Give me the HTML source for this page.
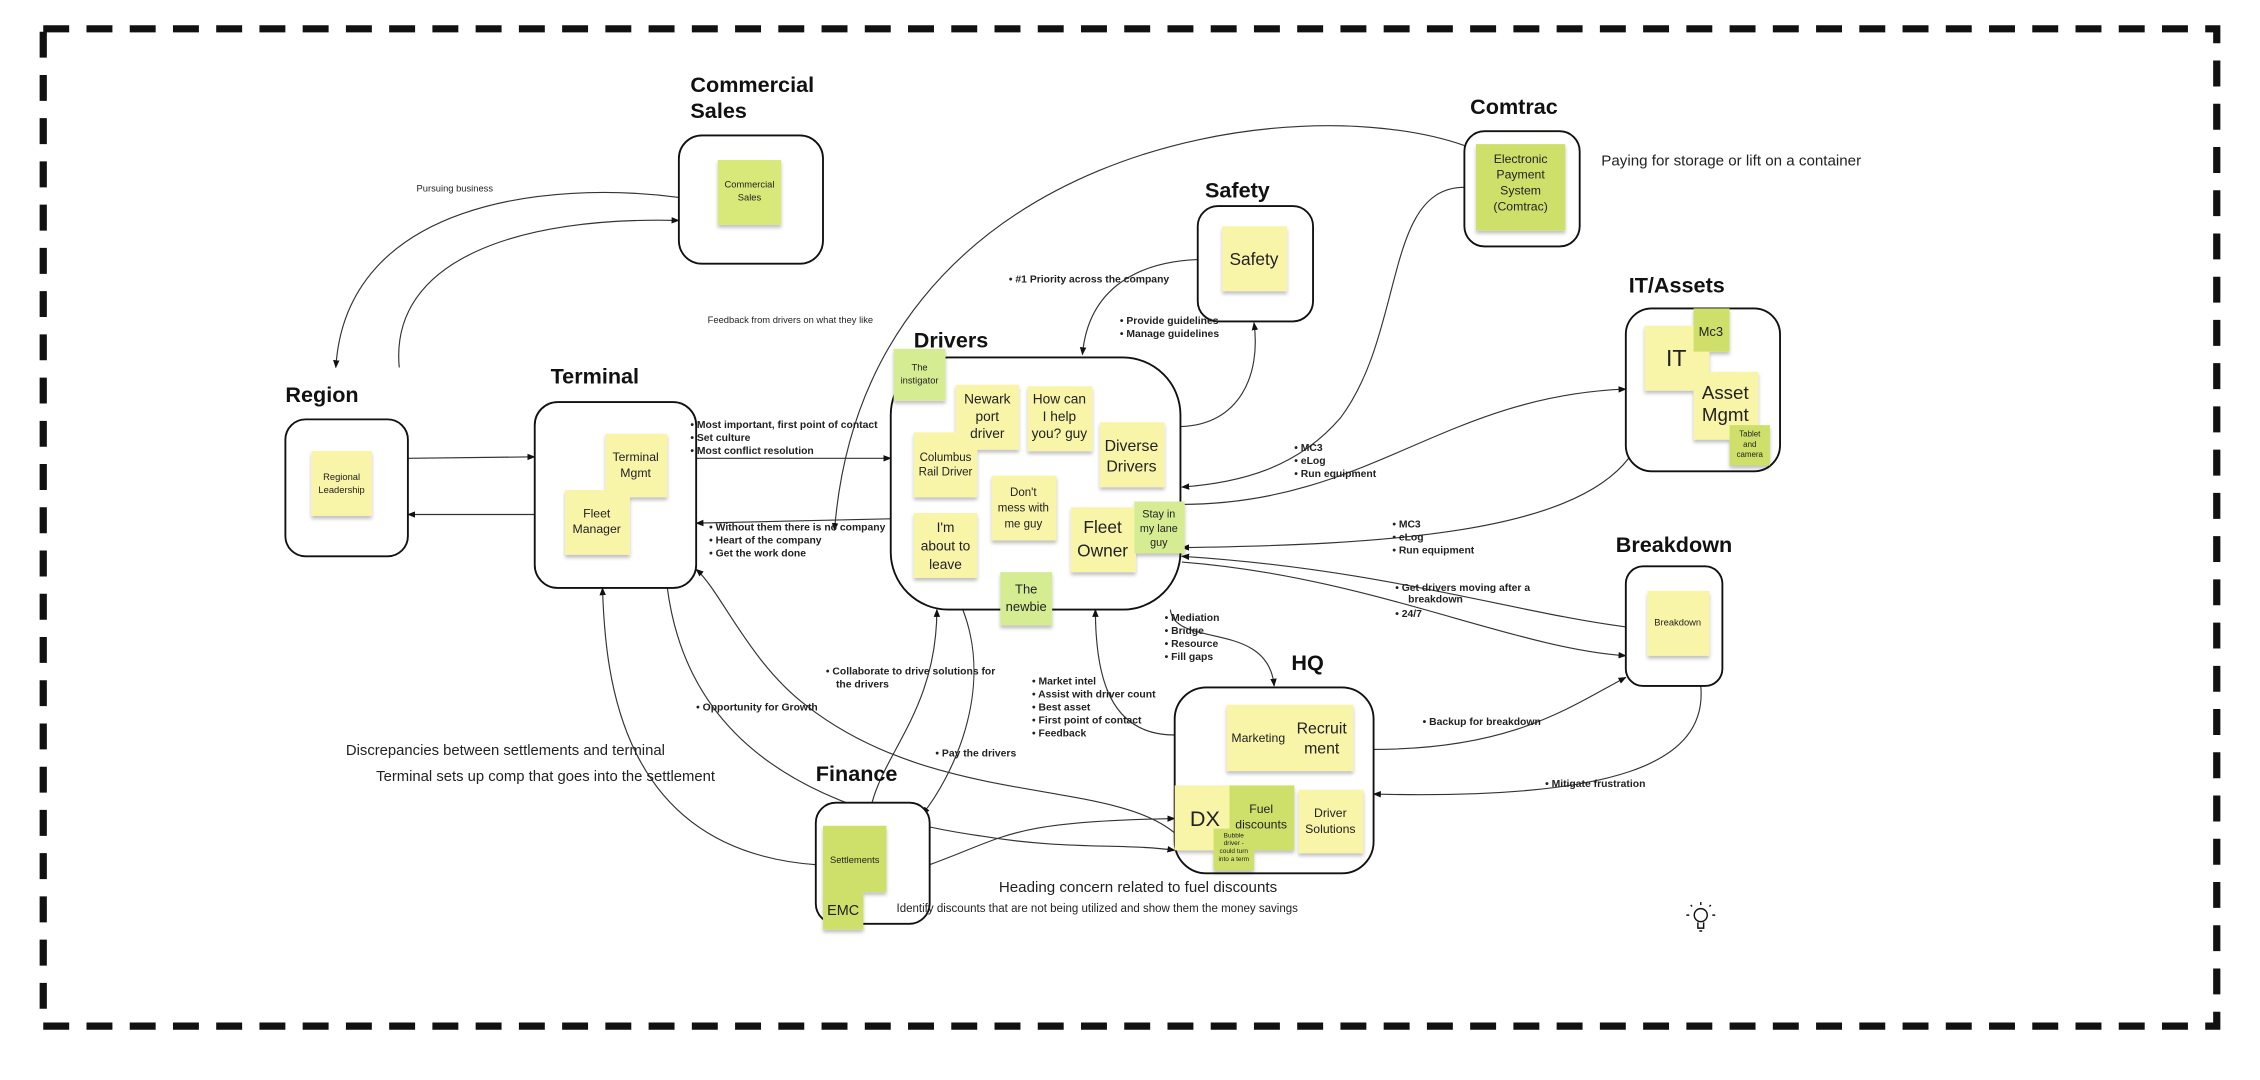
<!DOCTYPE html>
<html><head><meta charset="utf-8"><style>
html,body{margin:0;padding:0;background:#fff;}
svg{display:block;}
text{font-family:"Liberation Sans",sans-serif;fill:#222;}
.t{font-weight:bold;font-size:15px;fill:#111;}
.b{font-weight:bold;font-size:7.2px;fill:#222;}
.s{text-anchor:middle;fill:#333;}
</style></head><body>
<svg width="2260" height="1080" viewBox="0 0 1568 749.4" preserveAspectRatio="none" xmlns="http://www.w3.org/2000/svg">
<defs>
<marker id="a" viewBox="0 0 10 10" refX="9" refY="5" markerWidth="7" markerHeight="7" orient="auto"><path d="M0,1 L10,5 L0,9 z" fill="#111"/></marker>
<filter id="sh" x="-20%" y="-20%" width="140%" height="150%"><feDropShadow dx="0" dy="2" stdDeviation="1.3" flood-color="#000" flood-opacity="0.25"/></filter>
</defs>
<rect x="30" y="20" width="1508" height="692" fill="none" stroke="#111" stroke-width="5" stroke-dasharray="18 12"/>

<g fill="none" stroke="#333" stroke-width="0.8" marker-end="url(#a)">
<path d="M277,255 C270,180 360,150 471,153"/>
<path d="M471,137 C380,125 240,140 233,255"/>
<path d="M283,318 L371,317"/>
<path d="M371,357 L283,357"/>
<path d="M483,318 L618,318"/>
<path d="M618,360 L483,363"/>
<path d="M1016,101 C900,60 600,100 579,368"/>
<path d="M1016,130 C960,130 975,230 930,290 C900,325 860,335 820,338"/>
<path d="M819,296 C860,295 875,260 870,224"/>
<path d="M837,180 C790,180 755,200 751,246"/>
<path d="M819,350 C950,350 1000,275 1128,270"/>
<path d="M1130,318 C1090,370 960,378 820,380"/>
<path d="M1128,435 C1050,425 960,395 820,386"/>
<path d="M820,390 C950,400 1050,450 1128,455"/>
<path d="M812,423 C815,450 880,430 884,476"/>
<path d="M815,510 C770,510 760,470 760,423"/>
<path d="M953,520 C1050,520 1090,490 1128,470"/>
<path d="M1180,476 C1185,530 1120,555 953,551"/>
<path d="M668,423 C690,480 660,540 640,565"/>
<path d="M605,557 C615,520 650,490 650,423"/>
<path d="M566,600 C430,590 420,470 418,408"/>
<path d="M645,600 C700,580 700,570 815,568"/>
<path d="M815,578 C770,540 650,560 560,490 C520,460 500,410 483,395"/>
<path d="M463,408 C475,500 540,560 680,580 C740,590 780,585 815,590"/>
</g>

<g fill="#fff" stroke="#111" stroke-width="1.3">
<rect x="471" y="94" width="100" height="89" rx="16"/>
<rect x="1016" y="91" width="80" height="80" rx="14"/>
<rect x="831" y="143" width="80" height="80" rx="14"/>
<rect x="1128" y="214" width="107" height="113" rx="18"/>
<rect x="198" y="291" width="85" height="95" rx="14"/>
<rect x="371" y="279" width="112" height="129" rx="16"/>
<rect x="618" y="248" width="201" height="175" rx="40"/>
<rect x="1128" y="393" width="67" height="83" rx="12"/>
<rect x="815" y="477" width="138" height="129" rx="22"/>
<rect x="566" y="557" width="79" height="84" rx="14"/>
</g>

<text class="t" x="479" y="64">Commercial</text>
<text class="t" x="479" y="82">Sales</text>
<text class="t" x="1020" y="79">Comtrac</text>
<text class="t" x="836" y="137">Safety</text>
<text class="t" x="1130" y="203">IT/Assets</text>
<text class="t" x="198" y="279">Region</text>
<text class="t" x="382" y="266">Terminal</text>
<text class="t" x="634" y="241">Drivers</text>
<text class="t" x="1121" y="383">Breakdown</text>
<text class="t" x="896" y="465">HQ</text>
<text class="t" x="566" y="542">Finance</text>

<g filter="url(#sh)">
<rect x="498" y="111" width="44" height="45" fill="#d8e97a"/>
<rect x="1024" y="100" width="62" height="60" fill="#cfe06a"/>
<rect x="848" y="157" width="45" height="45" fill="#f8f4a8"/>
<rect x="1141" y="226" width="45" height="45" fill="#f8f4a8"/>
<rect x="1175" y="214" width="25" height="30" fill="#cfe06a"/>
<rect x="1175" y="258" width="45" height="47" fill="#f8f4a8"/>
<rect x="1200" y="295" width="28" height="28" fill="#cfe06a"/>
<rect x="216" y="313" width="42" height="45" fill="#f8f4a8"/>
<rect x="420" y="301" width="43" height="44" fill="#f8f4a8"/>
<rect x="392" y="340" width="45" height="45" fill="#f8f4a8"/>
<rect x="620" y="242" width="36" height="36" fill="#d6ec93"/>
<rect x="663" y="267" width="44" height="45" fill="#f8f4a8"/>
<rect x="713" y="268" width="45" height="45" fill="#f8f4a8"/>
<rect x="634" y="300" width="44" height="45" fill="#f8f4a8"/>
<rect x="763" y="293" width="45" height="45" fill="#f8f4a8"/>
<rect x="688" y="330" width="45" height="45" fill="#f8f4a8"/>
<rect x="634" y="356" width="44" height="45" fill="#f8f4a8"/>
<rect x="743" y="352" width="45" height="45" fill="#f8f4a8"/>
<rect x="787" y="348" width="35" height="36" fill="#d6ec93"/>
<rect x="694" y="397" width="36" height="37" fill="#d6ec93"/>
<rect x="1143" y="410" width="43" height="45" fill="#f8f4a8"/>
<rect x="851" y="489" width="88" height="46" fill="#f8f4a8"/>
<rect x="815" y="545" width="39" height="45" fill="#f8f4a8"/>
<rect x="853" y="545" width="45" height="45" fill="#cfe06a"/>
<rect x="901" y="548" width="45" height="44" fill="#f8f4a8"/>
<rect x="842" y="575" width="28" height="29" fill="#cfe06a"/>
<rect x="571" y="573" width="44" height="46" fill="#cfe06a"/>
<rect x="571" y="608" width="28" height="37" fill="#cfe06a"/>
</g>

<g class="s">
<text x="520" y="130" font-size="6.5">Commercial<tspan x="520" dy="9">Sales</tspan></text>
<text x="1055" y="113" font-size="8.5">Electronic<tspan x="1055" dy="11">Payment</tspan><tspan x="1055" dy="11">System</tspan><tspan x="1055" dy="11">(Comtrac)</tspan></text>
<text x="870" y="184" font-size="12">Safety</text>
<text x="1163" y="254" font-size="16">IT</text>
<text x="1187" y="233" font-size="9">Mc3</text>
<text x="1197" y="277" font-size="13">Asset<tspan x="1197" dy="15">Mgmt</tspan></text>
<text x="1214" y="303" font-size="5.5">Tablet<tspan x="1214" dy="7">and</tspan><tspan x="1214" dy="7">camera</tspan></text>
<text x="237" y="333" font-size="6.5">Regional<tspan x="237" dy="9">Leadership</tspan></text>
<text x="441" y="320" font-size="8.5">Terminal<tspan x="441" dy="11">Mgmt</tspan></text>
<text x="414" y="359" font-size="8.5">Fleet<tspan x="414" dy="11">Manager</tspan></text>
<text x="638" y="257" font-size="6.5">The<tspan x="638" dy="9">instigator</tspan></text>
<text x="685" y="280" font-size="9.5">Newark<tspan x="685" dy="12">port</tspan><tspan x="685" dy="12">driver</tspan></text>
<text x="735" y="280" font-size="9.5">How can<tspan x="735" dy="12">I help</tspan><tspan x="735" dy="12">you? guy</tspan></text>
<text x="656" y="320" font-size="8">Columbus<tspan x="656" dy="10">Rail Driver</tspan></text>
<text x="785" y="313" font-size="11">Diverse<tspan x="785" dy="14">Drivers</tspan></text>
<text x="710" y="344" font-size="8">Don't<tspan x="710" dy="11">mess with</tspan><tspan x="710" dy="11">me guy</tspan></text>
<text x="656" y="369" font-size="9.5">I'm<tspan x="656" dy="13">about to</tspan><tspan x="656" dy="13">leave</tspan></text>
<text x="765" y="370" font-size="12">Fleet<tspan x="765" dy="16">Owner</tspan></text>
<text x="804" y="359" font-size="7.5">Stay in<tspan x="804" dy="10">my lane</tspan><tspan x="804" dy="10">guy</tspan></text>
<text x="712" y="412" font-size="9">The<tspan x="712" dy="12">newbie</tspan></text>
<text x="1164" y="434" font-size="6.5">Breakdown</text>
<text x="873" y="515" font-size="8.5">Marketing</text>
<text x="917" y="509" font-size="11">Recruit<tspan x="917" dy="14">ment</tspan></text>
<text x="836" y="573" font-size="15">DX</text>
<text x="875" y="564" font-size="8.5">Fuel<tspan x="875" dy="11">discounts</tspan></text>
<text x="923" y="567" font-size="8.5">Driver<tspan x="923" dy="11">Solutions</tspan></text>
<text x="856" y="581" font-size="4.5">Bubble<tspan x="856" dy="5.5">driver -</tspan><tspan x="856" dy="5.5">could turn</tspan><tspan x="856" dy="5.5">into a term</tspan></text>
<text x="593" y="599" font-size="6.5">Settlements</text>
<text x="585" y="635" font-size="10">EMC</text>
</g>

<text x="289" y="133" font-size="6.5">Pursuing business</text>
<text x="491" y="224" font-size="6.5">Feedback from drivers on what they like</text>
<text x="1111" y="115" font-size="10.5">Paying for storage or lift on a container</text>
<g class="b">
<text x="700" y="196">•  #1 Priority across the company</text>
<text x="777" y="225">•  Provide guidelines</text>
<text x="777" y="234">•  Manage guidelines</text>
<text x="479" y="297">•  Most important, first point of contact</text>
<text x="479" y="306">•  Set culture</text>
<text x="479" y="315">•  Most conflict resolution</text>
<text x="492" y="368">•  Without them there is no company</text>
<text x="492" y="377">•  Heart of the company</text>
<text x="492" y="386">•  Get the work done</text>
<text x="898" y="313">•  MC3</text>
<text x="898" y="322">•  eLog</text>
<text x="898" y="331">•  Run equipment</text>
<text x="966" y="366">•  MC3</text>
<text x="966" y="375">•  eLog</text>
<text x="966" y="384">•  Run equipment</text>
<text x="968" y="410">•  Get drivers moving after a</text>
<text x="977" y="418">breakdown</text>
<text x="968" y="428">•  24/7</text>
<text x="808" y="431">•  Mediation</text>
<text x="808" y="440">•  Bridge</text>
<text x="808" y="449">•  Resource</text>
<text x="808" y="458">•  Fill gaps</text>
<text x="716" y="475">•  Market intel</text>
<text x="716" y="484">•  Assist with driver count</text>
<text x="716" y="493">•  Best asset</text>
<text x="716" y="502">•  First point of contact</text>
<text x="716" y="511">•  Feedback</text>
<text x="573" y="468">•  Collaborate to drive solutions for</text>
<text x="580" y="477">the drivers</text>
<text x="483" y="493">•  Opportunity for Growth</text>
<text x="649" y="525">•  Pay the drivers</text>
<text x="987" y="503">•  Backup for breakdown</text>
<text x="1072" y="546">•  Mitigate frustration</text>
</g>
<text x="240" y="524" font-size="10.3">Discrepancies between settlements and terminal</text>
<text x="261" y="542" font-size="10.3">Terminal sets up comp that goes into the settlement</text>
<text x="693" y="619" font-size="10.5">Heading concern related to fuel discounts</text>
<text x="622" y="633" font-size="8">Identify discounts that are not being utilized and show them the money savings</text>

<g fill="none" stroke="#111" stroke-width="1">
<circle cx="1180" cy="635" r="4.5"/>
<path d="M1178,640 L1178,644 L1182,644 L1182,640 M1179,646 L1181,646"/>
<path d="M1180,626 L1180,628 M1172,635 L1170,635 M1188,635 L1190,635 M1174,629 L1173,628 M1186,629 L1187,628"/>
</g>
</svg>
</body></html>
